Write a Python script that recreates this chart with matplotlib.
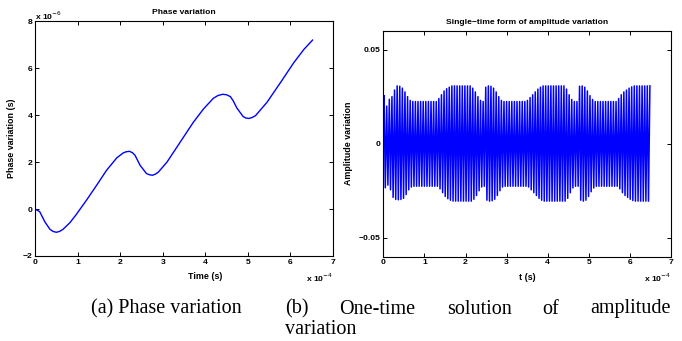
import numpy as np
import matplotlib
matplotlib.use("Agg")
import matplotlib.pyplot as plt
from matplotlib.ticker import FuncFormatter, MultipleLocator

plt.rcParams['font.family'] = ['Liberation Sans', 'DejaVu Sans']

# ---- (a) phase variation: time (x 1e-4 s) and phase (x 1e-6 s)
phase_t = [0.0, 0.11, 0.23, 0.35, 0.42, 0.5, 0.58, 0.66, 0.82, 0.97, 1.21,
           1.45, 1.68, 1.92, 2.07, 2.14, 2.22, 2.29, 2.35, 2.47, 2.62, 2.69,
           2.76, 2.83, 2.9, 3.1, 3.41, 3.72, 3.96, 4.19, 4.3, 4.41, 4.5,
           4.59, 4.66, 4.74, 4.89, 4.95, 5.02, 5.1, 5.18, 5.45, 5.77, 6.08,
           6.32, 6.52]
phase_v = [0.0, -0.11, -0.54, -0.86, -0.95, -0.99, -0.95, -0.86, -0.58,
           -0.23, 0.38, 1.02, 1.65, 2.18, 2.39, 2.44, 2.46, 2.4, 2.29, 1.86,
           1.51, 1.46, 1.44, 1.49, 1.58, 2.0, 2.85, 3.7, 4.27, 4.72, 4.84,
           4.89, 4.87, 4.79, 4.6, 4.31, 3.94, 3.88, 3.86, 3.9, 3.98, 4.55,
           5.4, 6.24, 6.81, 7.2]

# ---- (b) amplitude variation: one peak / trough per carrier cycle (x 1e-2)
amp_t_start = 0.02      # x 1e-4 s
amp_t_end = 6.487       # x 1e-4 s
amp_upper = ([2.55, 2.0, 2.36, 2.5, 2.85, 3.07, 3.05, 2.95, 2.75, 2.5, 2.3]
             + [2.24] * 10
             + [2.4, 2.6, 2.8, 2.92, 3.0]
             + [3.07] * 8
             + [2.95, 2.75, 2.5, 2.3, 2.24]
             + [3.0, 3.07, 3.05, 2.95, 2.75, 2.5, 2.3]
             + [2.24] * 9
             + [2.3, 2.45, 2.6, 2.75, 2.9, 3.0]
             + [3.07] * 9
             + [2.9, 2.6, 2.35, 2.24, 2.24]
             + [3.05, 3.07, 3.0, 2.8, 2.55, 2.35]
             + [2.24] * 9
             + [2.4, 2.6, 2.75, 2.85, 2.95, 3.02]
             + [3.07] * 7)
amp_lower = ([-2.34, -2.2, -2.45, -2.85, -2.96, -2.98, -2.96, -2.9, -2.7, -2.45, -2.3]
             + [-2.26] * 10
             + [-2.4, -2.6, -2.8, -2.92, -3.0]
             + [-3.05] * 8
             + [-2.95, -2.75, -2.5, -2.3, -2.26]
             + [-3.0, -3.05, -3.03, -2.95, -2.75, -2.5, -2.3]
             + [-2.26] * 9
             + [-2.3, -2.45, -2.6, -2.75, -2.9, -3.0]
             + [-3.05] * 9
             + [-2.9, -2.6, -2.35, -2.26, -2.26]
             + [-3.0, -3.05, -3.0, -2.8, -2.55, -2.35]
             + [-2.26] * 9
             + [-2.4, -2.6, -2.75, -2.85, -2.95, -3.02]
             + [-3.05] * 6 + [-1.5])

W, H = 682, 341
fig = plt.figure(figsize=(W / 100, H / 100), dpi=100)

def px_axes(x0, y0, x1, y1):
    return fig.add_axes([x0 / W, 1 - y1 / H, (x1 - x0) / W, (y1 - y0) / H])

FS = 6.1
LBL = 6.4
blue = (0, 0, 1)

def style(ax):
    ax.tick_params(direction='in', top=True, right=True, length=2.6, width=0.7,
                   labelsize=FS, pad=2)
    for lab in ax.get_xticklabels() + ax.get_yticklabels():
        lab.set_fontweight('bold')
    for s in ax.spines.values():
        s.set_linewidth(0.8)

# (a)
ax1 = px_axes(35, 21.3, 333, 256)
ax1.plot(np.array(phase_t) * 1e-4, np.array(phase_v) * 1e-6, color=blue, lw=1.0)
ax1.set_xlim(0, 7e-4)
ax1.set_ylim(-2e-6, 8e-6)
ax1.xaxis.set_major_locator(MultipleLocator(1e-4))
ax1.yaxis.set_major_locator(MultipleLocator(2e-6))
ax1.xaxis.set_major_formatter(FuncFormatter(lambda v, p: f"{v / 1e-4:.0f}"))
ax1.yaxis.set_major_formatter(FuncFormatter(
    lambda v, p: f"{v / 1e-6:.0f}".replace("-", "\u2212")))
style(ax1)
ax1.set_title("Phase variation", fontsize=FS, fontweight='bold', pad=5)
ax1.set_xlabel("Time (s)", fontsize=LBL, fontweight='bold')
ax1.xaxis.set_label_coords(0.57, -0.07)
ax1.set_ylabel("Phase variation (s)", fontsize=LBL, fontweight='bold')
ax1.yaxis.set_label_coords(-0.065, 0.5)
fig.text(35 / W, 1 - 16 / H, r"x 10$^{-6}$", fontsize=FS, fontweight='bold',
         ha='left', va='center')
fig.text(333 / W, 1 - 278 / H, r"x 10$^{-4}$", fontsize=FS, fontweight='bold',
         ha='right', va='center')

# (b)
n = len(amp_upper)
tc = np.linspace(amp_t_start, amp_t_end, n)
half = (tc[1] - tc[0]) / 2
ts = np.empty(2 * n + 1)
vs = np.empty(2 * n + 1)
ts[0], vs[0] = 0.0, 0.0
ts[1::2] = tc
ts[2::2] = tc + half * 0.9
vs[1::2] = amp_upper
vs[2::2] = amp_lower
ts = ts[ts <= 6.5]
vs = vs[:len(ts)]

ax2 = px_axes(383.3, 30.7, 671, 256.7)
ax2.plot(ts * 1e-4, vs * 1e-2, color=blue, lw=1.1)
ax2.set_xlim(0, 7e-4)
ax2.set_ylim(-0.06, 0.06)
ax2.xaxis.set_major_locator(MultipleLocator(1e-4))
ax2.set_yticks([-0.05, 0, 0.05])
ax2.xaxis.set_major_formatter(FuncFormatter(lambda v, p: f"{v / 1e-4:.0f}"))
ax2.yaxis.set_major_formatter(FuncFormatter(
    lambda v, p: "0" if abs(v) < 1e-9 else f"{v:.2f}".replace("-", "\u2212")))
style(ax2)
ax2.set_title("Single\u2212time form of amplitude variation", fontsize=FS,
              fontweight='bold', pad=5)
ax2.set_xlabel("t (s)", fontsize=LBL, fontweight='bold')
ax2.xaxis.set_label_coords(0.5, -0.07)
ax2.set_ylabel("Amplitude variation", fontsize=LBL, fontweight='bold')
ax2.yaxis.set_label_coords(-0.105, 0.5)
fig.text(671 / W, 1 - 278 / H, r"x 10$^{-4}$", fontsize=FS, fontweight='bold',
         ha='right', va='center')

# captions
cap = dict(fontsize=14.5, family=['Liberation Serif', 'DejaVu Serif'], va='center')
fig.text(166 / W, 1 - 309 / H, "(a) Phase variation", ha='center', **cap)

# justified first line of caption (b)
words = ["(b)", "One-time", "solution", "of", "amplitude"]
x_left, x_right = 285, 671
renderer = fig.canvas.get_renderer()
widths = []
for w in words:
    t = fig.text(0, 0, w, **cap)
    widths.append(t.get_window_extent(renderer).width)
    t.remove()
gap = (x_right - x_left - sum(widths)) / (len(words) - 1)
x = x_left
for w, wd in zip(words, widths):
    fig.text(x / W, 1 - 309 / H, w, ha='left', **cap)
    x += wd + gap
fig.text(285 / W, 1 - 329 / H, "variation", ha='left', **cap)

fig.savefig("out.png", dpi=100)
